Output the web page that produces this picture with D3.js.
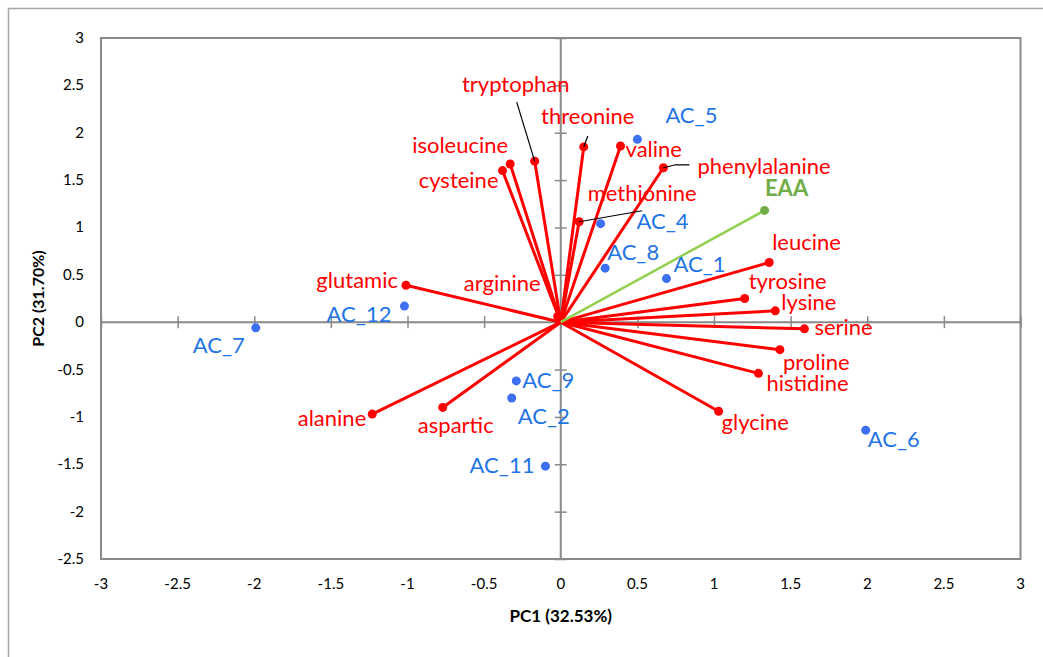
<!DOCTYPE html>
<html>
<head>
<meta charset="utf-8">
<script src="https://cdn.jsdelivr.net/npm/d3@7"></script>
<style>
  body { margin: 0; background: #fff; }
  svg { font-family: Lato, "Open Sans", sans-serif; }
</style>
</head>
<body>
<svg width="1043" height="657"></svg>
<script>
// loadings (amino acid vectors)
const aminoNames = ['tryptophan', 'threonine', 'valine', 'phenylalanine', 'isoleucine', 'cysteine',
                    'methionine', 'glutamic', 'arginine', 'leucine', 'tyrosine', 'lysine',
                    'serine', 'proline', 'histidine', 'glycine', 'alanine', 'aspartic'];
const aminoPC1 = [-0.17, 0.15, 0.39, 0.67, -0.33, -0.38, 0.12, -1.01, -0.02, 1.36, 1.20, 1.40,
                  1.59, 1.43, 1.29, 1.03, -1.23, -0.77];
const aminoPC2 = [1.70, 1.85, 1.86, 1.63, 1.67, 1.60, 1.06, 0.39, 0.06, 0.63, 0.25, 0.12,
                  -0.07, -0.29, -0.54, -0.94, -0.97, -0.90];

// EAA vector (green)
const eaaName = 'EAA';
const eaaPC1 = 1.33;
const eaaPC2 = 1.18;

// sample scores
const sampleNames = ['AC_1', 'AC_2', 'AC_4', 'AC_5', 'AC_6', 'AC_7', 'AC_8', 'AC_9', 'AC_11', 'AC_12'];
const samplePC1 = [0.69, -0.32, 0.26, 0.50, 1.99, -1.99, 0.29, -0.29, -0.10, -1.02];
const samplePC2 = [0.46, -0.80, 1.04, 1.93, -1.14, -0.06, 0.57, -0.62, -1.52, 0.17];

// axis ticks
const xTicks = [-3, -2.5, -2, -1.5, -1, -0.5, 0, 0.5, 1, 1.5, 2, 2.5, 3];
const yTicks = [-2.5, -2, -1.5, -1, -0.5, 0, 0.5, 1, 1.5, 2, 2.5, 3];

// label placement: [dx, dy, anchor] relative to the point, in px
const labelPos = {
  tryptophan: [-19, -69, 'middle'], threonine: [4, -23, 'middle'], valine: [5, 11, 'start'],
  phenylalanine: [34, 6, 'start'], isoleucine: [-2, -11, 'end'], cysteine: [-4, 17, 'end'],
  methionine: [63, -21, 'middle'], glutamic: [-8, 3, 'end'], arginine: [-17, -25, 'end'],
  leucine: [3, -13, 'start'], tyrosine: [4, -10, 'start'], lysine: [6, -1, 'start'],
  serine: [10, 6, 'start'], proline: [3, 20, 'start'], histidine: [8, 18, 'start'],
  glycine: [3, 19, 'start'], alanine: [-6, 12, 'end'], aspartic: [13, 26, 'middle'],
  EAA: [22, -14, 'middle'],
  AC_1: [7, -7, 'start'], AC_2: [6, 26, 'start'], AC_4: [36, 5, 'start'], AC_5: [28, -16, 'start'],
  AC_6: [2, 17, 'start'], AC_7: [-37, 25, 'middle'], AC_8: [2, -8, 'start'], AC_9: [6, 7, 'start'],
  AC_11: [-11, 7, 'end'], AC_12: [-13, 16, 'end']
};
// leader lines, offsets from the vector end
const leaders = {
  tryptophan: [[-18, -59], [0, 0]],
  threonine: [[4, -11], [0, 0]],
  phenylalanine: [[0, 0], [12, -3], [26, -3]],
  methionine: [[0, 0], [63, -11]]
};

const svg = d3.select('svg');
const x = d3.scaleLinear().domain([-3, 3]).range([101, 1020.5]);
const y = d3.scaleLinear().domain([-2.5, 3]).range([559, 38]);

// outer chart border (runs off the right/bottom edge)
svg.append('rect').attr('x', 8.5).attr('y', 8.5).attr('width', 1100).attr('height', 700)
   .attr('fill', 'none').attr('stroke', '#a6a6a6').attr('stroke-width', 1.5);

// plot frame
svg.append('rect').attr('x', x(-3)).attr('y', y(3))
   .attr('width', x(3) - x(-3)).attr('height', y(-2.5) - y(3))
   .attr('fill', 'none').attr('stroke', '#898989').attr('stroke-width', 2);

// zero axes with cross ticks
const xAxis = d3.axisBottom(x).tickValues(xTicks).tickSize(12).tickFormat('');
svg.append('g').attr('transform', `translate(0,${y(0) - 6})`).call(xAxis)
   .call(g => g.select('.domain').remove())
   .selectAll('line').attr('stroke', '#898989').attr('stroke-width', 1.5);
svg.append('line').attr('x1', x(-3)).attr('x2', x(3)).attr('y1', y(0)).attr('y2', y(0))
   .attr('stroke', '#898989').attr('stroke-width', 2);

const yAxis = d3.axisLeft(y).tickValues(yTicks).tickSize(12).tickFormat('');
svg.append('g').attr('transform', `translate(${x(0) + 6},0)`).call(yAxis)
   .call(g => g.select('.domain').remove())
   .selectAll('line').attr('stroke', '#898989').attr('stroke-width', 1.5);
svg.append('line').attr('x1', x(0)).attr('x2', x(0)).attr('y1', y(3)).attr('y2', y(-2.5))
   .attr('stroke', '#898989').attr('stroke-width', 2);

// tick labels outside the frame
svg.selectAll('.xlab').data(xTicks).enter().append('text')
   .attr('x', d => x(d)).attr('y', 589).attr('text-anchor', 'middle')
   .attr('font-size', 15).attr('fill', '#000').text(d => d);
svg.selectAll('.ylab').data(yTicks).enter().append('text')
   .attr('x', 84).attr('y', d => y(d) + 5).attr('text-anchor', 'end')
   .attr('font-size', 15).attr('fill', '#000').text(d => d);

// axis titles
svg.append('text').attr('x', x(0)).attr('y', 622).attr('text-anchor', 'middle')
   .attr('font-size', 17).attr('font-weight', 'bold').text('PC1 (32.53%)');
svg.append('text').attr('transform', `translate(44,${(y(3) + y(-2.5)) / 2}) rotate(-90)`)
   .attr('text-anchor', 'middle').attr('font-size', 16).attr('font-weight', 'bold').text('PC2 (31.70%)');

// amino acid vectors
const amino = aminoNames.map((n, i) => ({name: n, px: aminoPC1[i], py: aminoPC2[i]}));
const vec = svg.append('g');
vec.selectAll('line').data(amino).enter().append('line')
   .attr('x1', x(0)).attr('y1', y(0))
   .attr('x2', d => x(d.px)).attr('y2', d => y(d.py))
   .attr('stroke', '#ff0000').attr('stroke-width', 3);
vec.selectAll('circle').data(amino).enter().append('circle')
   .attr('cx', d => x(d.px)).attr('cy', d => y(d.py)).attr('r', 4.5).attr('fill', '#ff0000');

// EAA vector
svg.append('line').attr('x1', x(0)).attr('y1', y(0)).attr('x2', x(eaaPC1)).attr('y2', y(eaaPC2))
   .attr('stroke', '#92d050').attr('stroke-width', 2.5);
svg.append('circle').attr('cx', x(eaaPC1)).attr('cy', y(eaaPC2)).attr('r', 4.5).attr('fill', '#70ad47');

// leader lines
Object.keys(leaders).forEach(n => {
  const a = amino.find(d => d.name === n);
  const pts = leaders[n].map(p => [x(a.px) + p[0], y(a.py) + p[1]]);
  svg.append('path').attr('d', d3.line()(pts)).attr('fill', 'none')
     .attr('stroke', '#000').attr('stroke-width', 1.2);
});

// sample points
const samples = sampleNames.map((n, i) => ({name: n, px: samplePC1[i], py: samplePC2[i]}));
svg.selectAll('.pt').data(samples).enter().append('circle')
   .attr('cx', d => x(d.px)).attr('cy', d => y(d.py)).attr('r', 4.5).attr('fill', '#3d6ff2');

// labels
function addLabels(data, color, weight) {
  svg.selectAll(null).data(data).enter().append('text')
     .attr('x', d => x(d.px) + labelPos[d.name][0])
     .attr('y', d => y(d.py) + labelPos[d.name][1])
     .attr('text-anchor', d => labelPos[d.name][2])
     .attr('font-size', 22).attr('font-weight', weight)
     .attr('fill', color).text(d => d.name);
}
addLabels(amino, '#ff0000', 'normal');
addLabels(samples, '#1f74e6', 'normal');
addLabels([{name: eaaName, px: eaaPC1, py: eaaPC2}], '#70ad47', 'bold');
</script>
</body>
</html>
